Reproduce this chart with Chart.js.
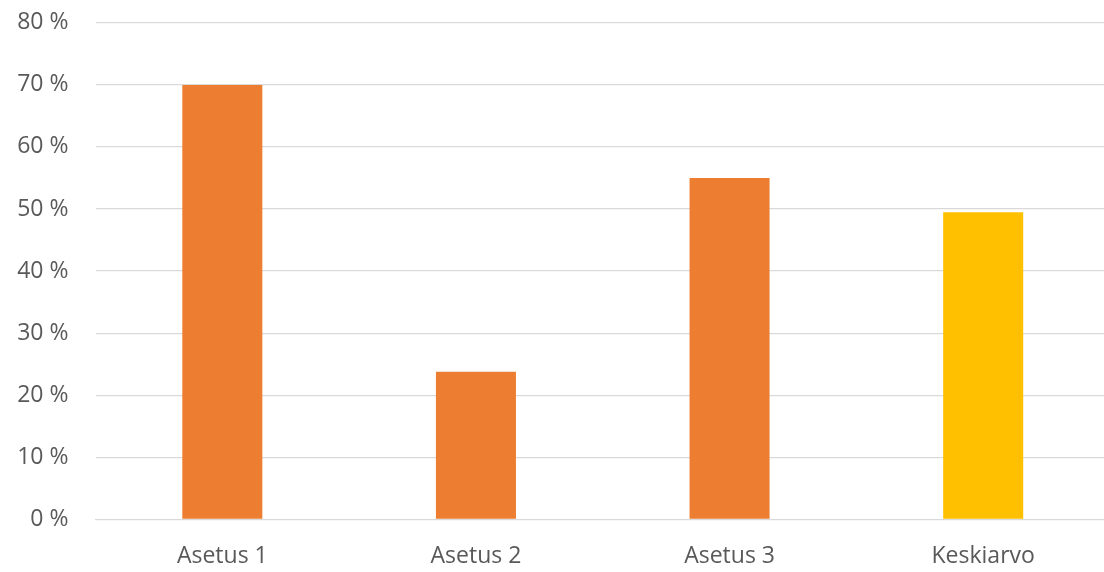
<!DOCTYPE html>
<html>
<head>
<meta charset="utf-8">
<script src="https://cdn.jsdelivr.net/npm/chart.js@4"></script>
<style>
  html, body { margin: 0; padding: 0; background: #fff; overflow: hidden; }
  #wrap { width: 1114px; height: 596px; margin-top: -18px; }
</style>
</head>
<body>
<div id="wrap"><canvas id="chart"></canvas></div>
<script>
const categories = ['Asetus 1', 'Asetus 2', 'Asetus 3', 'Keskiarvo'];
const values = [70, 23.8, 55, 49.5];
const barColors = ['#ed7d31', '#ed7d31', '#ed7d31', '#ffc000'];
const yTicks = [0, 10, 20, 30, 40, 50, 60, 70, 80];

const ctx = document.getElementById('chart');

new Chart(ctx, {
  type: 'bar',
  data: {
    labels: categories,
    datasets: [
      {
        data: values,
        backgroundColor: barColors,
        barPercentage: 0.3155,
        categoryPercentage: 1,
      },
    ],
  },
  options: {
    responsive: true,
    maintainAspectRatio: false,
    animation: false,
    layout: { padding: { top: 0, right: 4, bottom: -7, left: 0 } },
    plugins: {
      legend: { display: false },
      tooltip: { enabled: false },
    },
    scales: {
      x: {
        grid: { display: false },
        border: { color: '#d9d9d9' },
        ticks: {
          color: '#595959',
          font: { family: 'Open Sans', size: 23 },
          padding: 15,
        },
      },
      y: {
        min: 0,
        max: 80,
        afterBuildTicks: (axis) => {
          axis.ticks = yTicks.map((v) => ({ value: v }));
        },
        afterFit: (axis) => {
          axis.width = 95.5;
        },
        grid: { color: '#d9d9d9', lineWidth: 1.3, drawTicks: false },
        border: { display: false },
        ticks: {
          color: '#595959',
          font: { family: 'Open Sans', size: 23 },
          padding: 27,
          callback: (v) => v + ' %',
        },
      },
    },
  },
});
</script>
</body>
</html>
